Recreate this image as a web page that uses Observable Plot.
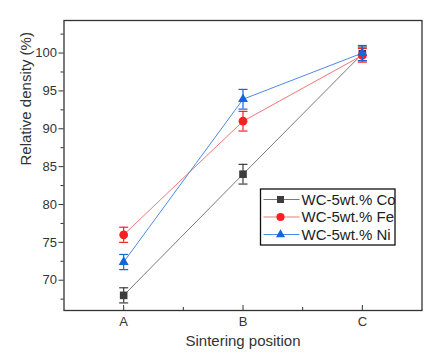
<!DOCTYPE html>
<html>
<head>
<meta charset="utf-8">
<script src="https://cdn.jsdelivr.net/npm/d3@7"></script>
<script src="https://cdn.jsdelivr.net/npm/@observablehq/plot@0.6"></script>
<style>
  html, body { margin: 0; padding: 0; background: #fff; }
  svg { display: block; }
</style>
</head>
<body>
<div id="chart"></div>
<script>
const categories = ["A", "B", "C"];
const seriesNames = ["WC-5wt.% Co", "WC-5wt.% Fe", "WC-5wt.% Ni"];
const coValues = [68.0, 84.0, 99.9];
const feValues = [76.0, 91.0, 99.7];
const niValues = [72.4, 93.9, 100.0];
const coErrors = [1.0, 1.3, 0.9];
const feErrors = [1.0, 1.3, 0.9];
const niErrors = [1.0, 1.3, 1.0];
const yTicks = [70, 75, 80, 85, 90, 95, 100];
const yMinorTicks = [67.5, 72.5, 77.5, 82.5, 87.5, 92.5, 97.5, 102.5];

const markerColors = ["#3d3d3d", "#f52222", "#1466dc"];
const lineColors = ["#7a7a7a", "#f07878", "#4a8be8"];
const symbols = ["square", "circle", "triangle"];
const radii = [4.3, 4.4, 3.7];

const valueSets = [coValues, feValues, niValues];
const errorSets = [coErrors, feErrors, niErrors];
const rows = [];
seriesNames.forEach((s, si) => {
  categories.forEach((c, ci) => {
    rows.push({series: s, si, x: ci, y: valueSets[si][ci], lo: valueSets[si][ci] - errorSets[si][ci], hi: valueSets[si][ci] + errorSets[si][ci]});
  });
});

const capSymbol = {
  draw(context, size) {
    const w = Math.sqrt(size / Math.PI);
    context.moveTo(-w, 0);
    context.lineTo(w, 0);
  }
};

const W = 437, H = 358;
const font = "'Liberation Sans', Arial, sans-serif";

const marks = [];
seriesNames.forEach((s, si) => {
  marks.push(Plot.line(rows.filter(d => d.si === si), {x: "x", y: "y", stroke: lineColors[si], strokeWidth: 1}));
});
seriesNames.forEach((s, si) => {
  const data = rows.filter(d => d.si === si);
  marks.push(Plot.ruleX(data, {x: "x", y1: "lo", y2: "hi", stroke: markerColors[si], strokeWidth: 1.2}));
  marks.push(Plot.dot(data, {x: "x", y: "lo", symbol: capSymbol, r: 4.5, stroke: markerColors[si], strokeWidth: 1.2, fill: "none"}));
  marks.push(Plot.dot(data, {x: "x", y: "hi", symbol: capSymbol, r: 4.5, stroke: markerColors[si], strokeWidth: 1.2, fill: "none"}));
  marks.push(Plot.dot(data, {x: "x", y: "y", symbol: symbols[si], r: radii[si], fill: markerColors[si], stroke: "none"}));
});

marks.push(Plot.axisY({ticks: yTicks, tickSize: 5, tickPadding: 2, fontSize: 13, label: null, stroke: "#333", fill: "#333"}));
marks.push(Plot.axisY({ticks: yMinorTicks, tickSize: 3, tickFormat: () => "", label: null, stroke: "#333"}));
marks.push(Plot.axisX({ticks: [0, 1, 2], tickSize: -5, tickFormat: () => "", label: null, stroke: "#333"}));
marks.push(Plot.axisX({ticks: [0.5, 1.5], tickSize: -3, tickFormat: () => "", label: null, stroke: "#333"}));
marks.push(Plot.axisX({ticks: [0, 1, 2], tickSize: 0, tickPadding: 6, tickFormat: i => categories[i], fontSize: 13, label: null, fill: "#333"}));
marks.push(Plot.frame({stroke: "#333", strokeWidth: 1.3}));
marks.push(Plot.text(["Relative density (%)"], {frameAnchor: "left", dx: -38, rotate: -90, fontSize: 15, fill: "#333"}));
marks.push(Plot.text(["Sintering position"], {frameAnchor: "bottom", dy: 35, fontSize: 15, fill: "#333"}));

const plot = Plot.plot({
  width: W,
  height: H,
  marginLeft: 63.5,
  marginRight: 15.5,
  marginTop: 20,
  marginBottom: 48,
  style: {fontFamily: font, color: "#333", background: "#fff"},
  x: {type: "linear", domain: [-0.5, 2.5], axis: null},
  y: {type: "linear", domain: [66, 104.3], axis: null},
  marks
});

const svg = d3.select(plot);
const g = svg.append("g").attr("font-family", font).attr("text-anchor", "start");
const lx = 260.5, ly = 189, lw = 134.5, lh = 56;
g.append("rect").attr("x", lx).attr("y", ly).attr("width", lw).attr("height", lh)
  .attr("fill", "#fff").attr("stroke", "#111").attr("stroke-width", 1.3);
seriesNames.forEach((s, si) => {
  const cy = ly + 10.5 + si * 17.5;
  g.append("line").attr("x1", lx + 3).attr("x2", lx + 39).attr("y1", cy).attr("y2", cy)
    .attr("stroke", lineColors[si]).attr("stroke-width", 1.2);
  const symType = [d3.symbolSquare, d3.symbolCircle, d3.symbolTriangle][si];
  g.append("path").attr("d", d3.symbol(symType, Math.PI * radii[si] * radii[si] * 0.85)())
    .attr("transform", `translate(${lx + 20},${cy})`).attr("fill", markerColors[si]);
  g.append("text").attr("x", lx + 41).attr("y", cy).attr("dy", "0.35em")
    .attr("text-anchor", "start")
    .attr("font-size", 15).attr("fill", "#222").text(s);
});

document.getElementById("chart").appendChild(plot);
</script>
</body>
</html>
